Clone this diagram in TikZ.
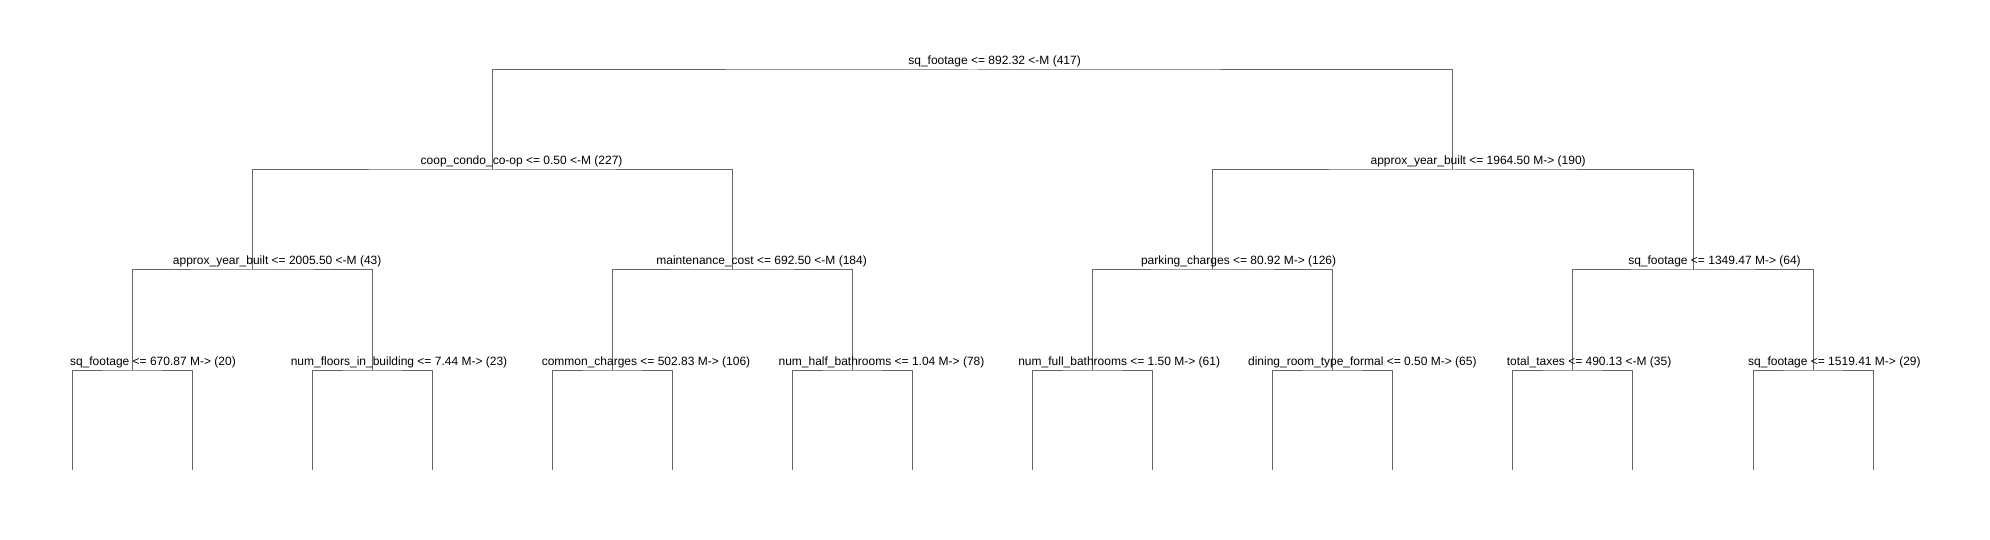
\documentclass[tikz,border=0pt]{standalone}
\usepackage{fontspec}
\setmainfont{Liberation Sans}
\begin{document}
\begin{tikzpicture}[x=1pt,y=-1pt,
  edge/.style={draw=black!60, line width=1pt},
  lbl/.style={anchor=base, inner sep=0pt, font=\fontsize{12}{14}\selectfont, text=black}]
\useasboundingbox (0,0) rectangle (1990,540);
% tree node positions
\coordinate (r) at (972.7,70);
\coordinate (a) at (492.5,170);
\coordinate (b) at (1452.9,170);
\coordinate (aa) at (252.4,270);
\coordinate (ab) at (732.6,270);
\coordinate (ba) at (1212.8,270);
\coordinate (bb) at (1693.0,270);
\coordinate (n0) at (132.3,370);
\coordinate (n1) at (372.4,370);
\coordinate (n2) at (612.5,370);
\coordinate (n3) at (852.6,370);
\coordinate (n4) at (1092.7,370);
\coordinate (n5) at (1332.8,370);
\coordinate (n6) at (1572.9,370);
\coordinate (n7) at (1813.0,370);
\coordinate (l0) at (72.3,470);
\coordinate (l1) at (192.35,470);
\coordinate (l2) at (312.4,470);
\coordinate (l3) at (432.45,470);
\coordinate (l4) at (552.5,470);
\coordinate (l5) at (672.55,470);
\coordinate (l6) at (792.6,470);
\coordinate (l7) at (912.65,470);
\coordinate (l8) at (1032.7,470);
\coordinate (l9) at (1152.75,470);
\coordinate (l10) at (1272.8,470);
\coordinate (l11) at (1392.85,470);
\coordinate (l12) at (1512.9,470);
\coordinate (l13) at (1632.95,470);
\coordinate (l14) at (1753.0,470);
\coordinate (l15) at (1873.05,470);
% connectors
\draw[edge] (a) |- (r) -| (b);
\draw[edge] (aa) |- (a) -| (ab);
\draw[edge] (ba) |- (b) -| (bb);
\draw[edge] (n0) |- (aa) -| (n1);
\draw[edge] (n2) |- (ab) -| (n3);
\draw[edge] (n4) |- (ba) -| (n5);
\draw[edge] (n6) |- (bb) -| (n7);
\draw[edge] (l0) |- (n0) -| (l1);
\draw[edge] (l2) |- (n1) -| (l3);
\draw[edge] (l4) |- (n2) -| (l5);
\draw[edge] (l6) |- (n3) -| (l7);
\draw[edge] (l8) |- (n4) -| (l9);
\draw[edge] (l10) |- (n5) -| (l11);
\draw[edge] (l12) |- (n6) -| (l13);
\draw[edge] (l14) |- (n7) -| (l15);
% labels
\node[lbl] (tr) at (994.6,65) {sq\_footage <= 892.32 <-M (417)};
\node[lbl] (ta) at (521.6,165) {coop\_condo\_co-op <= 0.50 <-M (227)};
\node[lbl] (tb) at (1478.2,165) {approx\_year\_built <= 1964.50 M-> (190)};
\node[lbl] (taa) at (277.2,265) {approx\_year\_built <= 2005.50 <-M (43)};
\node[lbl] (tab) at (761.6,265) {maintenance\_cost <= 692.50 <-M (184)};
\node[lbl] (tba) at (1238.6,265) {parking\_charges <= 80.92 M-> (126)};
\node[lbl] (tbb) at (1714.5,265) {sq\_footage <= 1349.47 M-> (64)};
\node[lbl] (t0) at (152.9,365) {sq\_footage <= 670.87 M-> (20)};
\node[lbl] (t1) at (399.0,365) {num\_floors\_in\_building <= 7.44 M-> (23)};
\node[lbl] (t2) at (646.0,365) {common\_charges <= 502.83 M-> (106)};
\node[lbl] (t3) at (881.5,365) {num\_half\_bathrooms <= 1.04 M-> (78)};
\node[lbl] (t4) at (1119.2,365) {num\_full\_bathrooms <= 1.50 M-> (61)};
\node[lbl] (t5) at (1362.3,365) {dining\_room\_type\_formal <= 0.50 M-> (65)};
\node[lbl] (t6) at (1589.1,365) {total\_taxes <= 490.13 <-M (35)};
\node[lbl] (t7) at (1834.4,365) {sq\_footage <= 1519.41 M-> (29)};
\end{tikzpicture}
\end{document}
